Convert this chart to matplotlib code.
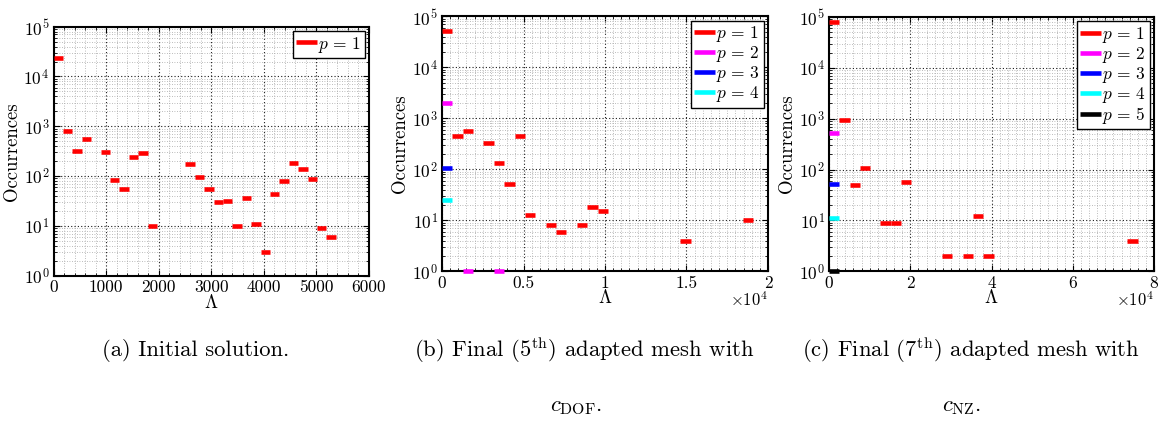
import numpy as np
import matplotlib
matplotlib.use("Agg")
import matplotlib.pyplot as plt
from matplotlib.lines import Line2D
from matplotlib.ticker import MultipleLocator, LogLocator, FuncFormatter, NullFormatter

plt.rcParams["font.family"] = ["cmr10", "DejaVu Serif"]
plt.rcParams["mathtext.fontset"] = "cm"
plt.rcParams["axes.formatter.use_mathtext"] = True

# ---- histogram data: 30 equal bins of Lambda, counts per bin (0 = empty) ----
NBINS = 30

# (a) initial solution
a_lambda_max = 5370.0
a_p1 = [24000, 800, 320, 550, 0, 310, 82, 54, 240, 295,
        10, 0, 0, 0, 175, 98, 54, 30, 31, 10,
        37, 11, 3, 43, 80, 180, 142, 88, 9, 6]

# (b) final (5th) adapted mesh with c_DOF
b_lambda_max = 19080.0
b_p1 = [52000, 460, 560, 0, 330, 133, 52, 460, 13, 0,
        8, 6, 0, 8, 18, 15, 0, 0, 0, 0,
        0, 0, 0, 4, 0, 0, 0, 0, 0, 10]
b_p2 = [2000, 0, 1, 0, 0, 1] + [0] * 24
b_p3 = [105] + [0] * 29
b_p4 = [25] + [0] * 29

# (c) final (7th) adapted mesh with c_NZ
c_lambda_max = 75960.0
c_p1 = [80000, 960, 49, 108, 0, 9, 9, 57, 0, 0,
        0, 2, 0, 2, 12, 2, 0, 0, 0, 0,
        0, 0, 0, 0, 0, 0, 0, 0, 0, 4]
c_p2 = [530] + [0] * 29
c_p3 = [51] + [0] * 29
c_p4 = [11] + [0] * 29
c_p5 = [1] + [0] * 29

series_colors = ["#ff0000", "#ff00ff", "#0000ff", "#00ffff", "#000000"]
series_labels = [r"$p\,=\,1$", r"$p\,=\,2$", r"$p\,=\,3$", r"$p\,=\,4$", r"$p\,=\,5$"]

BAR_LW = 3.3

W, H = 1162, 423
fig = plt.figure(figsize=(W / 100, H / 100), dpi=100)


def make_axes(left, top, right, bottom):
    return fig.add_axes([left / W, 1 - bottom / H, (right - left) / W, (bottom - top) / H])


def draw_panel(ax, lambda_max, series, xmax, xmajor, xminor, xfmt, offset=False):
    edges = np.linspace(0, lambda_max, NBINS + 1)
    for i, counts in enumerate(series):
        counts = np.asarray(counts, dtype=float)
        m = counts > 0
        ax.hlines(counts[m], edges[:-1][m], edges[1:][m], colors=series_colors[i],
                  linewidth=BAR_LW, capstyle="butt", zorder=3, clip_on=False)
    ax.set_yscale("log")
    ax.set_ylim(1, 1e5)
    ax.set_xlim(0, xmax)
    ax.xaxis.set_major_locator(MultipleLocator(xmajor))
    ax.xaxis.set_minor_locator(MultipleLocator(xminor))
    ax.xaxis.set_major_formatter(FuncFormatter(xfmt))
    ax.yaxis.set_major_locator(LogLocator(base=10, numticks=10))
    ax.yaxis.set_minor_locator(LogLocator(base=10, subs=np.arange(2, 10), numticks=12))
    ax.yaxis.set_minor_formatter(NullFormatter())
    ax.grid(True, which="major", linestyle=(0, (1, 2)), color="0.1", linewidth=0.8)
    ax.grid(True, which="minor", linestyle=(0, (1, 2)), color="0.65", linewidth=0.6)
    ax.set_axisbelow(True)
    ax.tick_params(which="both", direction="in", top=True, right=True, labelsize=12.5)
    ax.tick_params(which="major", length=4, width=0.8, pad=3)
    ax.tick_params(which="minor", length=2, width=0.6)
    for s in ax.spines.values():
        s.set_linewidth(1.5)
    ax.set_ylabel("Occurrences", fontsize=13.5, labelpad=2)
    ax.set_xlabel(r"$\Lambda$", fontsize=13.5, labelpad=-1)
    handles = [Line2D([], [], color=series_colors[i], lw=BAR_LW, solid_capstyle="butt")
               for i in range(len(series))]
    leg = ax.legend(handles, series_labels[:len(series)], loc="upper right", fontsize=12.5,
                    handlelength=1.2, handletextpad=0.05, labelspacing=0.0,
                    borderpad=0.2, borderaxespad=0.25, fancybox=False, framealpha=1)
    leg.get_frame().set_edgecolor("black")
    leg.get_frame().set_linewidth(1.0)
    if offset:
        ax.text(1.0, -0.075, r"$\times10^{4}$", transform=ax.transAxes, fontsize=12,
                ha="right", va="top")


def plain(v, pos):
    return "%g" % v


def scaled(v, pos):
    return "%g" % (v / 1e4)


ax_a = make_axes(53.5, 26.7, 369, 275.7)
draw_panel(ax_a, a_lambda_max, [a_p1], 6000, 1000, 200, plain)

ax_b = make_axes(442, 16.5, 768, 271.3)
draw_panel(ax_b, b_lambda_max, [b_p1, b_p2, b_p3, b_p4], 20000, 5000, 500, scaled, offset=True)

ax_c = make_axes(829, 17, 1154, 271.3)
draw_panel(ax_c, c_lambda_max, [c_p1, c_p2, c_p3, c_p4, c_p5], 80000, 20000, 2000, scaled, offset=True)

# sub-figure captions
cap = 16.3
fig.text(196 / W, 1 - 350 / H, "(a) Initial solution.", fontsize=cap, ha="center", va="center")
fig.text(584 / W, 1 - 350 / H, r"(b) Final (5$^{\rm th}$) adapted mesh with", fontsize=cap,
         ha="center", va="center")
fig.text(576 / W, 1 - 407 / H, r"$c_{\rm DOF}$.", fontsize=cap, ha="center", va="center")
fig.text(971 / W, 1 - 350 / H, r"(c) Final (7$^{\rm th}$) adapted mesh with", fontsize=cap,
         ha="center", va="center")
fig.text(962 / W, 1 - 407 / H, r"$c_{\rm NZ}$.", fontsize=cap, ha="center", va="center")

fig.savefig("out.png", dpi=100)
